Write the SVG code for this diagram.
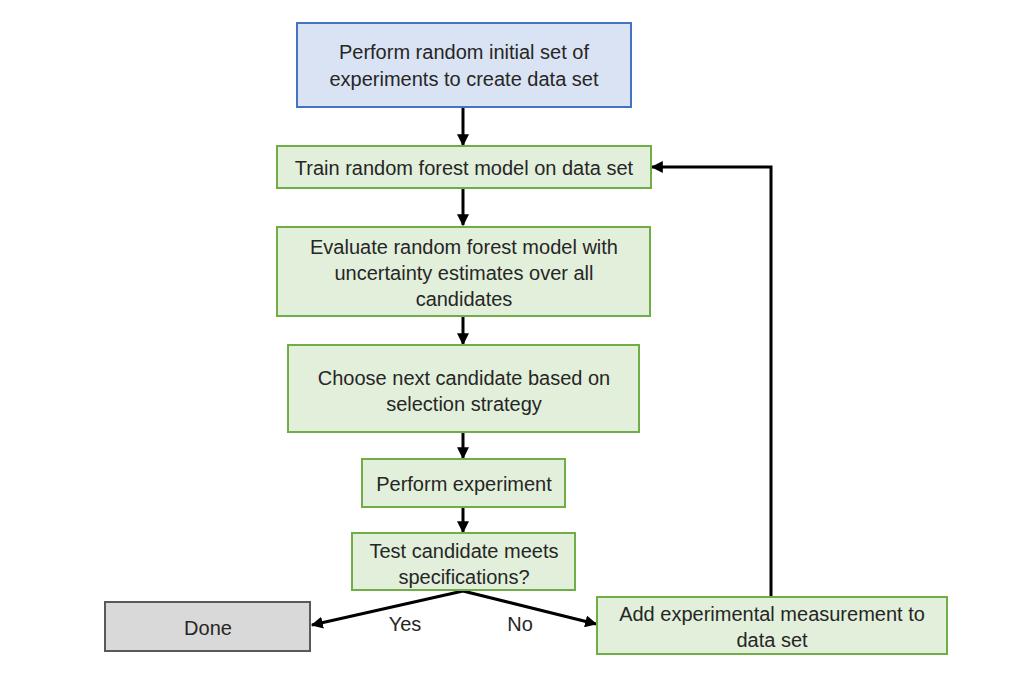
<svg xmlns="http://www.w3.org/2000/svg" width="1024" height="694" viewBox="0 0 1024 694">
<style>
.t{font-family:"Liberation Sans",Arial,sans-serif;font-size:20px;fill:#262626;text-anchor:middle}
.blue{fill:#dae3f3;stroke:#4472c4;stroke-width:2}
.green{fill:#e2efda;stroke:#70ad47;stroke-width:2}
.gray{fill:#d9d9d9;stroke:#595959;stroke-width:2}
.c{fill:none;stroke:#000;stroke-width:3;marker-end:url(#ah)}
</style>
<defs>
<marker id="ah" viewBox="0 0 10 10" refX="9" refY="5" markerWidth="4" markerHeight="4" orient="auto" markerUnits="strokeWidth">
<path d="M0,0 L10,5 L0,10 z" fill="#000"/>
</marker>
</defs>
<rect width="1024" height="694" fill="#fff"/>
<g id="connectors">
<line class="c" x1="463" y1="108" x2="463" y2="145"/>
<line class="c" x1="463" y1="189" x2="463" y2="225"/>
<line class="c" x1="463" y1="317" x2="463" y2="344"/>
<line class="c" x1="463" y1="433" x2="463" y2="458"/>
<line class="c" x1="463" y1="508" x2="463" y2="532"/>
<polyline class="c" points="463,591 312,625"/>
<polyline class="c" points="463,591 596,624"/>
<polyline class="c" points="771,596 771,167 652,167"/>
<text class="t" x="405" y="631">Yes</text>
<text class="t" x="520" y="631">No</text>
</g>
<g id="n1"><rect class="blue" x="297" y="23" width="334" height="84"/>
<text class="t" x="464" y="59">Perform random initial set of</text>
<text class="t" x="464" y="86">experiments to create data set</text></g>
<g id="n2"><rect class="green" x="277" y="146" width="374" height="42"/>
<text class="t" x="464" y="175">Train random forest model on data set</text></g>
<g id="n3"><rect class="green" x="277" y="227" width="373" height="89"/>
<text class="t" x="464" y="254">Evaluate random forest model with</text>
<text class="t" x="464" y="280">uncertainty estimates over all</text>
<text class="t" x="464" y="306">candidates</text></g>
<g id="n4"><rect class="green" x="288" y="345" width="351" height="87"/>
<text class="t" x="464" y="385">Choose next candidate based on</text>
<text class="t" x="464" y="411">selection strategy</text></g>
<g id="n5"><rect class="green" x="362" y="459" width="203" height="48"/>
<text class="t" x="464" y="491">Perform experiment</text></g>
<g id="n6"><rect class="green" x="352" y="533" width="223" height="57"/>
<text class="t" x="464" y="558">Test candidate meets</text>
<text class="t" x="464" y="584">specifications?</text></g>
<g id="done"><rect class="gray" x="105" y="602" width="205" height="49"/>
<text class="t" x="208" y="635">Done</text></g>
<g id="add"><rect class="green" x="597" y="597" width="350" height="57"/>
<text class="t" x="772" y="621">Add experimental measurement to</text>
<text class="t" x="772" y="647">data set</text></g>
</svg>
